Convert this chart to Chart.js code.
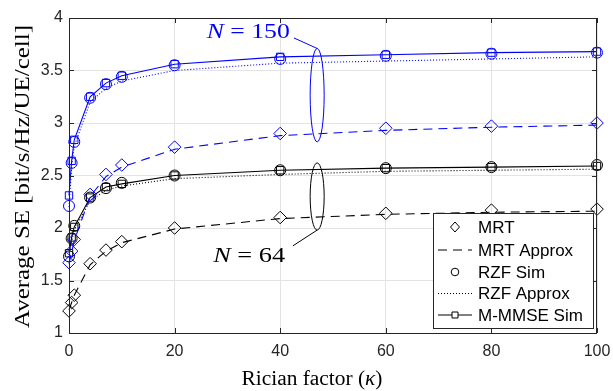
<!DOCTYPE html>
<html>
<head>
<meta charset="utf-8">
<script src="https://cdn.jsdelivr.net/npm/chart.js@4.4.0/dist/chart.umd.min.js"></script>
<style>
  html, body { margin: 0; padding: 0; background: #fff; }
</style>
</head>
<body>
<canvas id="se-chart" width="613" height="391"></canvas>
<script>
// Rician factor values
const kappa = [0, 0.5, 1, 4, 7, 10, 20, 40, 60, 80, 100];

// N = 150 (blue)
const mrt150 = [1.67, 1.78, 1.89, 2.32, 2.51, 2.60, 2.77, 2.90, 2.95, 2.97, 3.00];
const mrtApprox150 = [1.66, 1.77, 1.88, 2.30, 2.49, 2.58, 2.75, 2.88, 2.93, 2.96, 2.98];
const rzf150 = [2.21, 2.62, 2.82, 3.24, 3.37, 3.44, 3.55, 3.61, 3.64, 3.66, 3.67];
const rzfApprox150 = [2.20, 2.58, 2.78, 3.20, 3.33, 3.40, 3.50, 3.57, 3.59, 3.61, 3.63];
const mmmse150 = [2.31, 2.64, 2.84, 3.25, 3.38, 3.45, 3.56, 3.63, 3.65, 3.67, 3.68];

// N = 64 (black)
const mrt64 = [1.21, 1.29, 1.36, 1.66, 1.79, 1.87, 2.00, 2.10, 2.14, 2.17, 2.18];
const mrtApprox64 = [1.22, 1.29, 1.36, 1.65, 1.78, 1.86, 1.99, 2.09, 2.13, 2.15, 2.16];
const rzf64 = [1.73, 1.90, 2.02, 2.29, 2.38, 2.43, 2.50, 2.55, 2.57, 2.58, 2.60];
const rzfApprox64 = [1.72, 1.87, 1.98, 2.26, 2.36, 2.40, 2.47, 2.51, 2.54, 2.55, 2.56];
const mmmse64 = [1.76, 1.91, 2.01, 2.29, 2.39, 2.42, 2.50, 2.55, 2.57, 2.58, 2.59];

// axes / labels
const xTicks = [0, 20, 40, 60, 80, 100];
const yTicks = [1, 1.5, 2, 2.5, 3, 3.5, 4];
const legendLabels = ['MRT', 'MRT Approx', 'RZF Sim', 'RZF Approx', 'M-MMSE Sim'];
const xTitle = [{ t: 'Rician factor (' }, { t: 'κ', it: true }, { t: ')' }];
const yTitle = [{ t: 'Average SE [bit/s/Hz/UE/cell]' }];
const label150 = [{ t: 'N', it: true }, { t: ' = 150' }];
const label64 = [{ t: 'N', it: true }, { t: ' = 64' }];

const BLUE = '#0000ff';
const BLACK = '#000000';
const AXIS = '#262626';

function pts(arr) {
    return kappa.map((k, i) => ({ x: k, y: arr[i] }));
}

function markers(label, arr, color, style, r) {
    return {
        label: label,
        data: pts(arr),
        showLine: false,
        borderColor: color,
        pointStyle: style,
        pointRadius: r,
        pointBorderWidth: 1,
        pointBackgroundColor: 'rgba(0,0,0,0)',
        pointBorderColor: color,
        clip: 10
    };
}

function line(label, arr, color, dash, style, r) {
    return {
        label: label,
        data: pts(arr),
        borderColor: color,
        borderWidth: 1.1,
        borderDash: dash,
        pointStyle: style || 'circle',
        pointRadius: r || 0,
        pointBorderWidth: 1,
        pointBackgroundColor: 'rgba(0,0,0,0)',
        pointBorderColor: color,
        tension: 0,
        fill: false,
        clip: 10
    };
}

// draw text parts (italic segments), stretched to a target width, left baseline at 0,0
function drawRich(ctx, parts, size, color, targetW) {
    let total = 0;
    parts.forEach(p => {
        ctx.font = (p.it ? 'italic ' : '') + size + 'px "Liberation Serif"';
        p.w = ctx.measureText(p.t).width;
        total += p.w;
    });
    ctx.scale(targetW / total, 1);
    ctx.fillStyle = color;
    ctx.textAlign = 'left';
    ctx.textBaseline = 'alphabetic';
    let x0 = 0;
    parts.forEach(p => {
        ctx.font = (p.it ? 'italic ' : '') + size + 'px "Liberation Serif"';
        ctx.fillText(p.t, x0, 0);
        x0 += p.w;
    });
}

function ellipse(ctx, x, yTop, yBottom, rx, color) {
    ctx.beginPath();
    ctx.ellipse(x, (yTop + yBottom) / 2, rx, (yBottom - yTop) / 2, 0, 0, Math.PI * 2);
    ctx.strokeStyle = color;
    ctx.lineWidth = 1;
    ctx.stroke();
}

const decorations = {
    id: 'decorations',
    afterDatasetsDraw(chart) {
        const { ctx, chartArea: a, scales: { x, y } } = chart;
        ctx.save();

        // axes box
        ctx.strokeStyle = AXIS;
        ctx.lineWidth = 1;
        ctx.setLineDash([]);
        ctx.strokeRect(a.left + 0.5, a.top + 0.5, a.right - a.left - 1, a.bottom - a.top);

        // inward ticks on all sides
        ctx.beginPath();
        xTicks.forEach(v => {
            const px = Math.round(x.getPixelForValue(v)) + 0.5;
            ctx.moveTo(px, a.bottom); ctx.lineTo(px, a.bottom - 5);
            ctx.moveTo(px, a.top); ctx.lineTo(px, a.top + 5);
        });
        yTicks.forEach(v => {
            const py = Math.round(y.getPixelForValue(v)) + 0.5;
            ctx.moveTo(a.left, py); ctx.lineTo(a.left + 5, py);
            ctx.moveTo(a.right, py); ctx.lineTo(a.right - 5, py);
        });
        ctx.stroke();

        // N = 150 annotation
        const ex = x.getPixelForValue(47);
        const b1 = y.getPixelForValue(3.71), b2 = y.getPixelForValue(2.82);
        ellipse(ctx, ex, b1, b2, 7, BLUE);
        ctx.beginPath();
        ctx.moveTo(ex, b1);
        ctx.lineTo(x.getPixelForValue(42.6), y.getPixelForValue(3.81));
        ctx.stroke();
        ctx.save();
        ctx.translate(x.getPixelForValue(26.1), y.getPixelForValue(3.81));
        drawRich(ctx, label150, 22, BLUE, 83);
        ctx.restore();

        // N = 64 annotation
        const k1 = y.getPixelForValue(2.62), k2 = y.getPixelForValue(1.98);
        ellipse(ctx, ex, k1, k2, 7, BLACK);
        ctx.beginPath();
        ctx.moveTo(ex, k2);
        ctx.lineTo(x.getPixelForValue(42.4), y.getPixelForValue(1.83));
        ctx.stroke();
        ctx.save();
        ctx.translate(x.getPixelForValue(27.3), y.getPixelForValue(1.676));
        drawRich(ctx, label64, 22, BLACK, 72);
        ctx.restore();

        // legend box
        const lw = 160, lh = 115;
        const lx = a.right - 4 - lw, ly = a.bottom - 5 - lh;
        ctx.fillStyle = '#fff';
        ctx.fillRect(lx, ly, lw, lh);
        ctx.strokeStyle = AXIS;
        ctx.strokeRect(lx + 0.5, ly + 0.5, lw, lh);

        const rows = [14, 37, 59, 80.5, 102];
        const sx = lx + 22;
        ctx.strokeStyle = BLACK;
        ctx.lineWidth = 1;
        rows.forEach((ry, i) => {
            const cy = ly + ry;
            ctx.beginPath();
            ctx.setLineDash([]);
            if (i === 0) {
                ctx.moveTo(sx - 4.5, cy); ctx.lineTo(sx, cy - 5); ctx.lineTo(sx + 4.5, cy); ctx.lineTo(sx, cy + 5); ctx.closePath();
            } else if (i === 1) {
                ctx.setLineDash([9, 6]);
                ctx.moveTo(lx + 5, cy); ctx.lineTo(lx + 39, cy);
            } else if (i === 2) {
                ctx.arc(sx, cy, 3.8, 0, Math.PI * 2);
            } else if (i === 3) {
                ctx.setLineDash([1, 2]);
                ctx.moveTo(lx + 5, cy); ctx.lineTo(lx + 39, cy);
            } else {
                ctx.moveTo(lx + 5, cy); ctx.lineTo(lx + 39, cy);
                ctx.stroke();
                ctx.beginPath();
                ctx.fillStyle = '#fff';
                ctx.fillRect(sx - 3, cy - 3, 6, 6);
                ctx.rect(sx - 3, cy - 3, 6, 6);
            }
            ctx.stroke();
            ctx.setLineDash([]);
            ctx.fillStyle = BLACK;
            ctx.font = '17px "Liberation Sans"';
            ctx.textAlign = 'left';
            ctx.textBaseline = 'middle';
            ctx.fillText(legendLabels[i], lx + 45, cy + 1);
        });

        ctx.restore();
    },
    afterDraw(chart) {
        const { ctx, chartArea: a } = chart;
        ctx.save();
        // x title
        ctx.save();
        ctx.translate(312 - 141 / 2, 385);
        drawRich(ctx, xTitle, 20, BLACK, 141);
        ctx.restore();
        // y title
        ctx.save();
        ctx.translate(28.5, (a.top + a.bottom) / 2 + 1);
        ctx.rotate(-Math.PI / 2);
        ctx.translate(-303 / 2, 0);
        drawRich(ctx, yTitle, 20, BLACK, 303);
        ctx.restore();
        ctx.restore();
    }
};

new Chart(document.getElementById('se-chart'), {
    type: 'line',
    data: {
        datasets: [
            markers('MRT N=150', mrt150, BLUE, 'rectRot', 6.3),
            line('MRT Approx N=150', mrtApprox150, BLUE, [9, 6]),
            markers('RZF Sim N=150', rzf150, BLUE, 'circle', 5.5),
            line('RZF Approx N=150', rzfApprox150, BLUE, [1, 2]),
            line('M-MMSE Sim N=150', mmmse150, BLUE, [], 'rect', 5.2),
            markers('MRT N=64', mrt64, BLACK, 'rectRot', 6.3),
            line('MRT Approx N=64', mrtApprox64, BLACK, [9, 6]),
            markers('RZF Sim N=64', rzf64, BLACK, 'circle', 5.5),
            line('RZF Approx N=64', rzfApprox64, BLACK, [1, 2]),
            line('M-MMSE Sim N=64', mmmse64, BLACK, [], 'rect', 5.2)
        ]
    },
    options: {
        responsive: false,
        animation: false,
        layout: { padding: { top: 18, right: 16, left: 0, bottom: 0 } },
        plugins: {
            legend: { display: false },
            tooltip: { enabled: false }
        },
        scales: {
            x: {
                type: 'linear',
                min: 0,
                max: 100,
                afterFit: s => { s.height = 58; s.paddingLeft = 0; s.paddingRight = 0; },
                afterBuildTicks: s => { s.ticks = xTicks.map(v => ({ value: v })); },
                ticks: {
                    padding: 9,
                    color: AXIS,
                    font: { family: 'Liberation Sans', size: 16 },
                    callback: v => String(v)
                },
                grid: { color: '#e3e3e3', drawTicks: false },
                border: { display: false }
            },
            y: {
                type: 'linear',
                min: 1,
                max: 4,
                afterFit: s => { s.width = 69; s.paddingTop = 0; s.paddingBottom = 0; },
                afterBuildTicks: s => { s.ticks = yTicks.map(v => ({ value: v })); },
                ticks: {
                    padding: 6,
                    color: AXIS,
                    font: { family: 'Liberation Sans', size: 16 },
                    callback: v => String(v)
                },
                grid: { color: '#e3e3e3', drawTicks: false },
                border: { display: false }
            }
        }
    },
    plugins: [decorations]
});
</script>
</body>
</html>
